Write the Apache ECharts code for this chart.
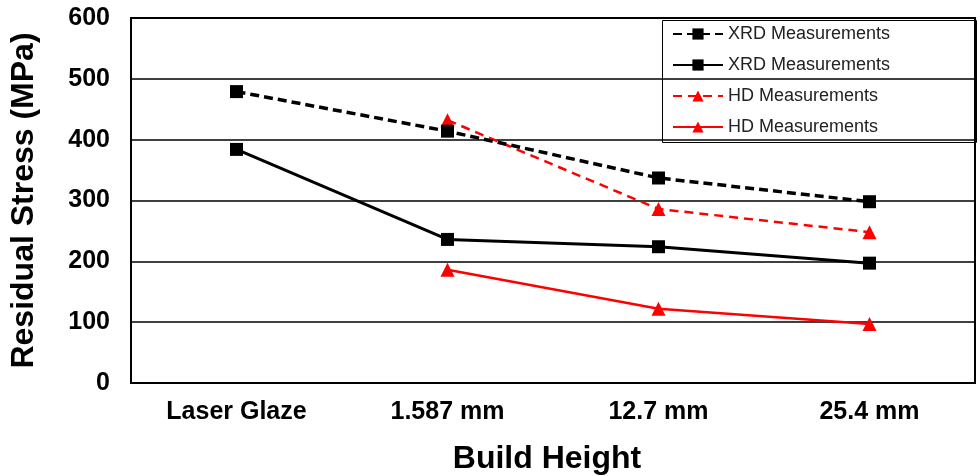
<!DOCTYPE html>
<html>
<head>
<meta charset="utf-8">
<script src="https://cdn.jsdelivr.net/npm/echarts@6/dist/echarts.min.js"></script>
<style>html,body{margin:0;padding:0;background:#fff;}#c{width:980px;height:476px;}</style>
</head>
<body>
<div id="c"></div>
<script>
var categories = ['Laser Glaze', '1.587 mm', '12.7 mm', '25.4 mm'];
var xrdDashed = [479, 414, 337, 298];
var xrdSolid = [384, 236, 224, 197];
var hdDashed = [null, 432, 286, 248];
var hdSolid = [null, 186, 122, 97];
var yTicks = [0, 100, 200, 300, 400, 500, 600];

var chart = echarts.init(document.getElementById('c'));
var font = 'Liberation Sans, Arial, sans-serif';
chart.setOption({
  animation: false,
  backgroundColor: '#fff',
  grid: { left: 131, right: 5, top: 18, bottom: 93, show: true, borderColor: '#000', borderWidth: 2,
    containLabel: false, outerBoundsMode: 'none' },
  legend: {
    orient: 'vertical', left: 660, top: 18,
    padding: [7, 0, 0, 12],
    itemWidth: 50, itemHeight: 14, itemGap: 13,
    textStyle: { fontFamily: font, fontSize: 18, color: '#222' },
    data: ['XRD Measurements (dashed)', 'XRD Measurements', 'HD Measurements (dashed)', 'HD Measurements'],
    formatter: function (n) { return n.replace(' (dashed)', ''); }
  },
  graphic: [{
    type: 'rect', left: 660, top: 18, z: 100, silent: true,
    shape: { width: 314, height: 122 },
    style: { fill: 'none', stroke: '#000', lineWidth: 1 }
  }],
  xAxis: {
    type: 'category', data: categories, boundaryGap: true,
    axisLine: { lineStyle: { color: '#000', width: 2 } },
    axisTick: { show: false },
    axisLabel: { fontFamily: font, fontWeight: 'bold', fontSize: 25, color: '#000', margin: 17 },
    name: 'Build Height', nameLocation: 'middle', nameGap: 60,
    nameTextStyle: { fontFamily: font, fontWeight: 'bold', fontSize: 32, color: '#000', padding: [0, 12, 0, 0] }
  },
  yAxis: {
    type: 'value', min: 0, max: 600, interval: 100,
    axisLine: { show: true, lineStyle: { color: '#000', width: 2 } },
    axisTick: { show: false },
    splitLine: { lineStyle: { color: '#000', width: 1.5 } },
    axisLabel: { fontFamily: font, fontWeight: 'bold', fontSize: 25, color: '#000', margin: 21,
      formatter: function (v) { return yTicks.indexOf(v) >= 0 ? String(v) : ''; } },
    name: 'Residual Stress (MPa)', nameLocation: 'middle', nameGap: 91,
    nameTextStyle: { fontFamily: font, fontWeight: 'bold', fontSize: 32, color: '#000' }
  },
  series: [
    { name: 'XRD Measurements (dashed)', type: 'line', data: xrdDashed, symbol: 'rect', symbolSize: 13,
      itemStyle: { color: '#000' }, lineStyle: { color: '#000', width: 3.5, type: [9, 5] }, z: 3 },
    { name: 'XRD Measurements', type: 'line', data: xrdSolid, symbol: 'rect', symbolSize: 13,
      itemStyle: { color: '#000' }, lineStyle: { color: '#000', width: 3 }, z: 3 },
    { name: 'HD Measurements (dashed)', type: 'line', data: hdDashed, symbol: 'triangle', symbolSize: 14,
      itemStyle: { color: '#ff0000' }, lineStyle: { color: '#ff0000', width: 2.5, type: [9, 6] }, z: 2 },
    { name: 'HD Measurements', type: 'line', data: hdSolid, symbol: 'triangle', symbolSize: 14,
      itemStyle: { color: '#ff0000' }, lineStyle: { color: '#ff0000', width: 2.5 }, z: 2 }
  ]
});
</script>
</body>
</html>
